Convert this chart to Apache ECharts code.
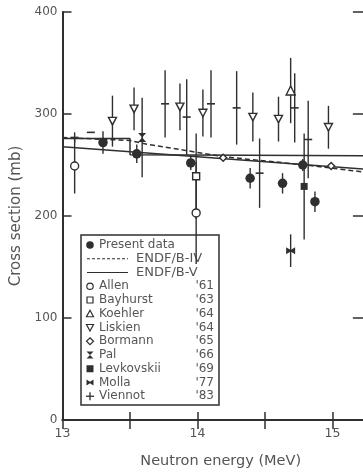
<!DOCTYPE html>
<html>
<head>
<meta charset="utf-8">
<script src="https://cdn.jsdelivr.net/npm/echarts@6/dist/echarts.min.js"></script>
<style>
  html, body { margin: 0; padding: 0; background: #fff; }
  #chart { width: 363px; height: 475px; }
</style>
</head>
<body>
<div id="chart"></div>
<script>
// ---- Axis ranges and tick labels ----
const energyRange = [13, 15.24];
const energyLabels = [13, 14, 15];
const sigmaRange = [0, 400];
const sigmaLabels = [0, 100, 200, 300, 400];

// ---- Evaluated curves [energy (MeV), cross section (mb)] ----
const endfB4 = [[13.0, 277], [13.5, 274], [13.6, 271], [14.2, 258], [14.8, 250], [15.24, 243]];
const endfB5 = [[13.0, 276], [13.5, 276], [13.5, 260], [15.24, 259]];
const endfB5Trend = [[13.0, 268], [15.24, 246]];

// ---- Measurements: energy, cross section, uncertainty ----
const presentE   = [13.30, 13.55, 13.95, 14.39, 14.63, 14.78, 14.87];
const presentS   = [272, 261, 252, 237, 232, 250, 214];
const presentErr = [11, 9, 7, 10, 10, 6, 10];

const allenE   = [13.09, 13.99];
const allenS   = [249, 203];
const allenErr = [27, 50];

const bayhurstE   = [13.99];
const bayhurstS   = [239];
const bayhurstErr = [42];

const koehlerE   = [14.69];
const koehlerS   = [323];
const koehlerErr = [32];

const liskienE   = [13.37, 13.53, 13.87, 14.04, 14.41, 14.60, 14.97];
const liskienS   = [293, 305, 307, 301, 297, 295, 287];
const liskienErr = [25, 21, 23, 23, 24, 22, 21];

const bormannE   = [14.19, 14.99];
const bormannS   = [257, 249];
const bormannErr = [3, 3];

const palE   = [13.59];
const palS   = [277];
const palErr = [39];

const levkovskiiE   = [14.79];
const levkovskiiS   = [229];
const levkovskiiErr = [52];

const mollaE   = [14.69];
const mollaS   = [166];
const mollaErr = [16];

const viennotE   = [13.09, 13.21, 13.76, 13.92, 14.10, 14.29, 14.46, 14.72, 14.82];
const viennotS   = [277, 282, 310, 297, 310, 306, 242, 306, 275];
const viennotErr = [5, 0, 33, 37, 33, 36, 34, 34, 38];

// ---- Legend rows: label, year ----
const legendNames = ['Allen', 'Bayhurst', 'Koehler', 'Liskien', 'Bormann', 'Pal', 'Levkovskii', 'Molla', 'Viennot'];
const legendYears = ["'61", "'63", "'64", "'64", "'65", "'66", "'69", "'77", "'83"];

// ---- Styling ----
const ink = '#2f2f2f';
const textInk = '#555';
const font = 'DejaVu Sans';

// Marker shapes
const SYM = {
  present: 'circle',
  allen: 'circle',
  bayhurst: 'rect',
  koehler: 'triangle',
  liskien: 'path://M0,0L10,0L5,9Z',
  bormann: 'diamond',
  pal: 'path://M0,0L10,0L5,5L10,10L0,10L5,5Z',
  levkovskii: 'rect',
  molla: 'path://M0,0L5,4L10,0L10,10L5,6L0,10Z',
  viennot: 'rect'
};

function errorBars(name, E, S, D) {
  return {
    type: 'custom',
    name: name + ' error',
    silent: true,
    z: 3,
    encode: { x: 0, y: [1, 2] },
    data: E.map((e, i) => [e, S[i] - D[i], S[i] + D[i]]),
    renderItem(params, api) {
      const lo = api.coord([api.value(0), api.value(1)]);
      const hi = api.coord([api.value(0), api.value(2)]);
      return {
        type: 'line',
        shape: { x1: lo[0], y1: lo[1], x2: hi[0], y2: hi[1] },
        style: { stroke: ink, lineWidth: 1.4 }
      };
    }
  };
}

function markers(name, E, S, symbol, size, filled) {
  return {
    type: 'scatter',
    name: name,
    silent: true,
    z: 5,
    symbol: symbol,
    symbolSize: size,
    data: E.map((e, i) => [e, S[i]]),
    itemStyle: {
      color: filled ? ink : '#fff',
      borderColor: ink,
      borderWidth: filled ? 0 : 1.4,
      opacity: 1
    }
  };
}

function curve(name, pts, dashed) {
  return {
    type: 'line',
    name: name,
    silent: true,
    z: 4,
    symbol: 'none',
    data: pts,
    lineStyle: { color: ink, width: 1.5, type: dashed ? [5, 3] : 'solid' }
  };
}

const series = [
  curve('ENDF/B-IV', endfB4, true),
  curve('ENDF/B-V', endfB5, false),
  curve('ENDF/B-V trend', endfB5Trend, false),
  errorBars('Present data', presentE, presentS, presentErr),
  errorBars('Allen', allenE, allenS, allenErr),
  errorBars('Bayhurst', bayhurstE, bayhurstS, bayhurstErr),
  errorBars('Koehler', koehlerE, koehlerS, koehlerErr),
  errorBars('Liskien', liskienE, liskienS, liskienErr),
  errorBars('Bormann', bormannE, bormannS, bormannErr),
  errorBars('Pal', palE, palS, palErr),
  errorBars('Levkovskii', levkovskiiE, levkovskiiS, levkovskiiErr),
  errorBars('Molla', mollaE, mollaS, mollaErr),
  errorBars('Viennot', viennotE, viennotS, viennotErr),
  markers('Present data', presentE, presentS, SYM.present, 9.5, true),
  markers('Allen', allenE, allenS, SYM.allen, 8, false),
  markers('Bayhurst', bayhurstE, bayhurstS, SYM.bayhurst, 7, false),
  markers('Koehler', koehlerE, koehlerS, SYM.koehler, 9, false),
  markers('Liskien', liskienE, liskienS, SYM.liskien, [8, 7.5], false),
  markers('Bormann', bormannE, bormannS, SYM.bormann, 7, false),
  markers('Pal', palE, palS, SYM.pal, [8, 9], true),
  markers('Levkovskii', levkovskiiE, levkovskiiS, SYM.levkovskii, 7, true),
  markers('Molla', mollaE, mollaS, SYM.molla, [9, 7], true),
  markers('Viennot', viennotE, viennotS, SYM.viennot, [8, 1.6], true)
];

// ---- Legend box drawn with graphic elements ----
const boxX = 81, boxY = 235, boxW = 138, boxH = 170;
const rowY0 = 245, rowStep = 13.75;
const symX = 90, textX = 99, yearX = 214;
const legendText = (x, y, s, align, size) => ({
  type: 'text', x: x, y: y,
  style: { text: s, fill: textInk, font: (size || 12) + 'px "' + font + '"', align: align || 'left', verticalAlign: 'middle' }
});
const legendGraphics = [
  { type: 'rect', shape: { x: boxX, y: boxY, width: boxW, height: boxH },
    style: { fill: '#fff', stroke: ink, lineWidth: 1.5 } },
  { type: 'circle', shape: { cx: symX, cy: rowY0, r: 3.8 }, style: { fill: ink } },
  legendText(textX, rowY0, 'Present data'),
  { type: 'line', shape: { x1: 87, y1: rowY0 + rowStep, x2: 128, y2: rowY0 + rowStep },
    style: { stroke: ink, lineWidth: 1.2, lineDash: [3, 2] } },
  legendText(136, rowY0 + rowStep, 'ENDF/B-IV', 'left', 13),
  { type: 'line', shape: { x1: 87, y1: rowY0 + 2 * rowStep, x2: 128, y2: rowY0 + 2 * rowStep },
    style: { stroke: ink, lineWidth: 1.2 } },
  legendText(136, rowY0 + 2 * rowStep, 'ENDF/B-V', 'left', 13)
];
function legendSymbol(i, y) {
  const s = { stroke: ink, lineWidth: 1.2, fill: '#fff' };
  const f = { fill: ink };
  switch (i) {
    case 0: return { type: 'circle', shape: { cx: symX, cy: y, r: 3.2 }, style: s };
    case 1: return { type: 'rect', shape: { x: symX - 3, y: y - 3, width: 6, height: 6 }, style: s };
    case 2: return { type: 'polygon', shape: { points: [[symX - 3.5, y + 3], [symX + 3.5, y + 3], [symX, y - 3.5]] }, style: s };
    case 3: return { type: 'polygon', shape: { points: [[symX - 3.5, y - 3], [symX + 3.5, y - 3], [symX, y + 3.5]] }, style: s };
    case 4: return { type: 'polygon', shape: { points: [[symX, y - 3.5], [symX + 3.5, y], [symX, y + 3.5], [symX - 3.5, y]] }, style: s };
    case 5: return { type: 'polygon', shape: { points: [[symX - 3.5, y - 3.5], [symX + 3.5, y - 3.5], [symX, y], [symX + 3.5, y + 3.5], [symX - 3.5, y + 3.5], [symX, y]] }, style: f };
    case 6: return { type: 'rect', shape: { x: symX - 3.5, y: y - 3.5, width: 7, height: 7 }, style: f };
    case 7: return { type: 'polygon', shape: { points: [[symX - 3.5, y - 3], [symX, y - 0.8], [symX + 3.5, y - 3], [symX + 3.5, y + 3], [symX, y + 0.8], [symX - 3.5, y + 3]] }, style: f };
    default: return { type: 'group', children: [
      { type: 'line', shape: { x1: symX - 4, y1: y, x2: symX + 4, y2: y }, style: { stroke: ink, lineWidth: 1.3 } },
      { type: 'line', shape: { x1: symX, y1: y - 4, x2: symX, y2: y + 4 }, style: { stroke: ink, lineWidth: 1.3 } }
    ] };
  }
}
legendNames.forEach((name, i) => {
  const y = rowY0 + (i + 3) * rowStep;
  legendGraphics.push(legendSymbol(i, y));
  legendGraphics.push(legendText(textX, y, name));
  legendGraphics.push(legendText(yearX, y, legendYears[i], 'right'));
});

const gridLeft = 62.5, gridTop = 12, pxPerMeV = 135;
const axisLineStyle = { color: ink, width: 2 };

const option = {
  animation: false,
  backgroundColor: '#fff',
  grid: {
    left: gridLeft,
    top: gridTop,
    width: (energyRange[1] - energyRange[0]) * pxPerMeV,
    height: 408,
    containLabel: false,
    outerBoundsMode: 'none'
  },
  xAxis: [
    {
      type: 'value', position: 'bottom',
      min: energyRange[0], max: energyRange[1], interval: 0.5,
      name: 'Neutron energy (MeV)', nameLocation: 'middle', nameGap: 34,
      nameTextStyle: { color: textInk, fontFamily: font, fontSize: 14.5, padding: [0, 0, 0, 14] },
      axisLine: { show: true, lineStyle: axisLineStyle },
      axisTick: { show: true, inside: true, length: 8, lineStyle: { color: ink, width: 1.5 } },
      axisLabel: {
        color: textInk, fontFamily: font, fontSize: 12.5, margin: 7,
        showMaxLabel: false,
        formatter: v => (energyLabels.indexOf(v) >= 0 ? String(v) : '')
      },
      splitLine: { show: false }
    },
    {
      type: 'value', position: 'top',
      min: energyRange[0], max: energyRange[1], interval: 0.5,
      axisLine: { show: true, lineStyle: axisLineStyle },
      axisTick: { show: true, inside: true, length: 9, lineStyle: { color: ink, width: 1.5 } },
      axisLabel: { show: false },
      splitLine: { show: false }
    }
  ],
  yAxis: [
    {
      type: 'value', position: 'left',
      min: sigmaRange[0], max: sigmaRange[1], interval: 100,
      name: 'Cross section (mb)', nameLocation: 'middle', nameGap: 37,
      nameTextStyle: { color: textInk, fontFamily: font, fontSize: 15 },
      axisLine: { show: true, lineStyle: axisLineStyle },
      axisTick: { show: true, inside: true, length: 9, lineStyle: { color: ink, width: 1.5 } },
      axisLabel: {
        color: textInk, fontFamily: font, fontSize: 12, margin: 5,
        formatter: v => (sigmaLabels.indexOf(v) >= 0 ? String(v) : '')
      },
      splitLine: { show: false }
    },
    {
      type: 'value', position: 'right',
      min: sigmaRange[0], max: sigmaRange[1], interval: 100,
      axisLine: { show: true, lineStyle: axisLineStyle },
      axisTick: { show: true, inside: true, length: 12, lineStyle: { color: ink, width: 1.5 } },
      axisLabel: { show: false },
      splitLine: { show: false }
    }
  ],
  series: series,
  graphic: [{ type: 'group', z: 100, children: legendGraphics }]
};

const chart = echarts.init(document.getElementById('chart'), null, { renderer: 'canvas' });
chart.setOption(option);
</script>
</body>
</html>
